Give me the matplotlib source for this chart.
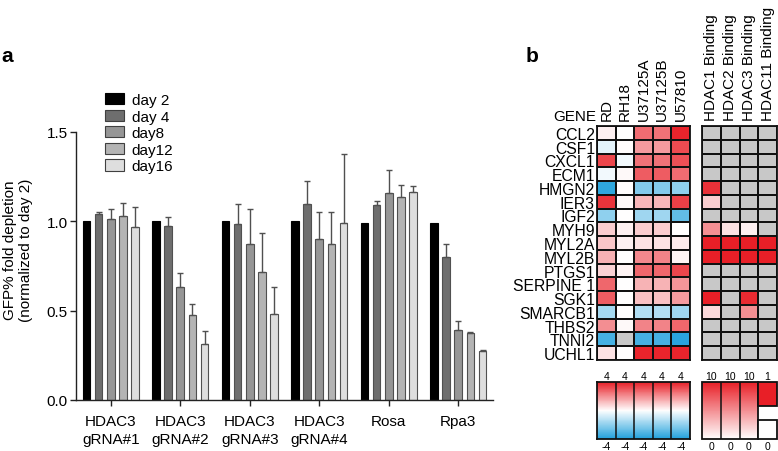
import numpy as np
import matplotlib
matplotlib.use("Agg")
import matplotlib.pyplot as plt
from matplotlib.colors import LinearSegmentedColormap
from matplotlib.patches import Patch, Rectangle

plt.rcParams['font.family'] = ['Liberation Sans', 'DejaVu Sans']

# ---------------- data: panel a ----------------
groups = ['HDAC3\ngRNA#1', 'HDAC3\ngRNA#2', 'HDAC3\ngRNA#3', 'HDAC3\ngRNA#4', 'Rosa', 'Rpa3']
series_names = ['day 2', 'day 4', 'day8', 'day12', 'day16']
day2 = [1.0, 1.0, 1.0, 1.0, 0.99, 0.99]
day4 = [1.04, 0.975, 0.985, 1.095, 1.09, 0.80]
day8 = [1.015, 0.63, 0.875, 0.90, 1.16, 0.39]
day12 = [1.03, 0.475, 0.715, 0.875, 1.135, 0.375]
day16 = [0.97, 0.315, 0.48, 0.99, 1.165, 0.275]
err2 = [0, 0, 0, 0, 0, 0]
err4 = [0.01, 0.05, 0.11, 0.13, 0.025, 0.075]
err8 = [0.055, 0.08, 0.195, 0.15, 0.125, 0.05]
err12 = [0.075, 0.06, 0.22, 0.18, 0.07, 0.008]
err16 = [0.11, 0.07, 0.15, 0.385, 0.035, 0.005]
bar_colors = ['#000000', '#6e6e6e', '#969696', '#b4b4b4', '#dedede']

# ---------------- data: panel b ----------------
genes = ['CCL2', 'CSF1', 'CXCL1', 'ECM1', 'HMGN2', 'IER3', 'IGF2', 'MYH9', 'MYL2A',
         'MYL2B', 'PTGS1', 'SERPINE 1', 'SGK1', 'SMARCB1', 'THBS2', 'TNNI2', 'UCHL1']
expr_cols = ['RD', 'RH18', 'U37125A', 'U37125B', 'U57810']
RD = [0.25, -0.5, 3.3, -0.25, -3.7, 3.6, -2.0, 0.9, 1.0, 1.4, 0.8, 2.7, 2.9, -1.6, 2.0, -3.3, 0.5]
RH18 = [0.0, 0.05, -0.25, 0.1, 0.05, 0.1, 0.0, 0.25, 0.25, 0.0, 0.2, 0.0, 0.0, 0.0, 0.1, np.nan, 0.0]
U37125A = [2.6, 1.8, 2.5, 2.9, -2.2, 1.3, -1.7, 0.9, 0.5, 2.1, 2.7, 1.35, 1.1, -1.4, 2.2, -3.3, 3.9]
U37125B = [2.5, 1.8, 2.5, 2.9, -2.2, 1.3, -1.7, 0.9, 0.5, 2.2, 2.7, 1.35, 1.1, -1.4, 2.2, -3.3, 3.9]
U57810 = [3.9, 3.2, 3.1, 2.6, -2.0, 3.4, -2.8, 0.0, 0.35, 0.2, 3.3, 1.9, 1.8, -1.7, 2.7, -3.8, 3.9]

bind_cols = ['HDAC1 Binding', 'HDAC2 Binding', 'HDAC3 Binding', 'HDAC11 Binding']
nan = np.nan
HDAC1 = [nan, nan, nan, nan, 9.2, 2.2, nan, 5.0, 10, 10, nan, nan, 10, 1.7, nan, nan, nan]
HDAC2 = [nan, nan, nan, nan, nan, nan, nan, 1.3, 10, 10, nan, nan, nan, nan, nan, nan, nan]
HDAC3 = [nan, nan, nan, nan, nan, nan, nan, 0.7, 10, 10, nan, nan, 9.5, 5.0, nan, nan, nan]
HDAC11 = [nan, nan, nan, nan, nan, nan, nan, nan, 1, 1, nan, nan, nan, nan, nan, nan, nan]
bind_max = [10, 10, 10, 1]
expr_top = ['4', '4', '4', '4', '4']
expr_bot = ['-4', '-4', '-4', '-4', '-4']
bind_top = ['10', '10', '10', '1']
bind_bot = ['0', '0', '0', '0']

W, H = 778, 452
fig = plt.figure(figsize=(W / 100, H / 100), dpi=100)

def fx(px):
    return px / W

def fy(py):
    return 1 - py / H

# ---------------- panel a ----------------
ax = fig.add_axes([fx(76), fy(401), fx(493 - 76), (401 - 133) / H])
x = np.arange(len(groups))
vals = [day2, day4, day8, day12, day16]
errs = [err2, err4, err8, err12, err16]
step = 0.175
bw = 0.11
for i, (v, e, c) in enumerate(zip(vals, errs, bar_colors)):
    off = (i - 2) * step
    ec = '#000000' if i == 0 else '#505050'
    ax.bar(x + off, v, width=bw, color=c, edgecolor=ec, linewidth=0.8, zorder=2)
    if i > 0:
        ax.errorbar(x + off, v, yerr=[np.zeros(len(e)), e], fmt='none', ecolor='#505050',
                    elinewidth=1.0, capsize=2.0, capthick=1.0, zorder=3)
ax.set_xlim(-0.5, 5.5)
ax.set_ylim(0, 1.5)
ax.set_yticks([0, 0.5, 1.0, 1.5])
ax.set_yticklabels(['0.0', '0.5', '1.0', '1.5'])
ax.set_xticks(x)
ax.set_xticklabels(groups, linespacing=1.38)
for s in ['top', 'right']:
    ax.spines[s].set_visible(False)
for s in ['left', 'bottom']:
    ax.spines[s].set_linewidth(1.0)
    ax.spines[s].set_color('#222222')
ax.tick_params(axis='both', labelsize=11, length=4, width=1.0, color='#222222')
ax.tick_params(axis='x', pad=6)
ax.tick_params(axis='y', pad=2)
fig.text(fx(18), fy(250), 'GFP% fold depletion\n(normalized to day 2)', rotation=90,
         ha='center', va='center', fontsize=11, linespacing=1.15)
handles = [Patch(facecolor=c, edgecolor=('#000000' if i == 0 else '#404040'), linewidth=0.8)
           for i, c in enumerate(bar_colors)]
fig.legend(handles, series_names, loc='upper left', bbox_to_anchor=(fx(105), fy(94)),
           frameon=False, fontsize=11, handlelength=1.25, handleheight=0.75,
           handletextpad=0.5, labelspacing=0.17, borderaxespad=0, borderpad=0)
fig.text(fx(1), fy(57), 'a', fontsize=15, fontweight='bold', ha='left', va='center')

# ---------------- panel b ----------------
cmap_div = LinearSegmentedColormap.from_list('bwr2', ['#1fa0dc', '#ffffff', '#e81f27'])
cmap_div.set_bad('#c8c8c8')
cmap_red = LinearSegmentedColormap.from_list('wr2', ['#ffffff', '#e81f27'])
cmap_red.set_bad('#c8c8c8')

top_px, bot_px = 127, 361
n = len(genes)

ax1 = fig.add_axes([fx(597), fy(bot_px), fx(690 - 597), (bot_px - top_px) / H])
M = np.array([RD, RH18, U37125A, U37125B, U57810], dtype=float).T
ax1.pcolormesh(np.ma.masked_invalid(M), cmap=cmap_div, vmin=-4, vmax=4,
               edgecolors='#111111', linewidth=1.1)
ax1.set_xlim(0, len(expr_cols))
ax1.set_ylim(n, 0)
ax1.set_yticks(np.arange(n) + 0.5)
ax1.set_yticklabels(genes, fontsize=11.3)
ax1.xaxis.tick_top()
ax1.set_xticks(np.arange(len(expr_cols)) + 0.5)
ax1.set_xticklabels(expr_cols, rotation=90, fontsize=11)
ax1.tick_params(length=0, pad=1.5)
ax1.tick_params(axis='x', pad=4)
for s in ax1.spines.values():
    s.set_linewidth(1.3)
    s.set_color('#111111')

ax2 = fig.add_axes([fx(702), fy(bot_px), fx(777 - 702), (bot_px - top_px) / H])
B = np.array([np.array(HDAC1) / bind_max[0], np.array(HDAC2) / bind_max[1],
              np.array(HDAC3) / bind_max[2], np.array(HDAC11) / bind_max[3]], dtype=float).T
ax2.pcolormesh(np.ma.masked_invalid(B), cmap=cmap_red, vmin=0, vmax=1,
               edgecolors='#111111', linewidth=1.1)
ax2.set_xlim(0, len(bind_cols))
ax2.set_ylim(n, 0)
ax2.set_yticks([])
ax2.xaxis.tick_top()
ax2.set_xticks(np.arange(len(bind_cols)) + 0.5)
ax2.set_xticklabels(bind_cols, rotation=90, fontsize=11)
ax2.tick_params(length=0, pad=4)
for s in ax2.spines.values():
    s.set_linewidth(1.3)
    s.set_color('#111111')

fig.text(fx(596), fy(117), 'GENE', ha='right', va='center', fontsize=11)
fig.text(fx(526), fy(57), 'b', fontsize=15, fontweight='bold', ha='left', va='center')

# colour keys
cb_top, cb_bot = 383, 440
axc1 = fig.add_axes([fx(597), fy(cb_bot), fx(690 - 597), (cb_bot - cb_top) / H])
yy = np.linspace(-4, 4, 121)
xx = np.arange(len(expr_cols) + 1)
G = np.tile(((yy[:-1] + yy[1:]) / 2)[:, None], (1, len(expr_cols)))
axc1.pcolormesh(xx, yy, G, cmap=cmap_div, vmin=-4, vmax=4, shading='flat')
for k in range(1, len(expr_cols)):
    axc1.axvline(k, color='#111111', lw=1.1)
axc1.set_xlim(0, len(expr_cols))
axc1.set_ylim(-4, 4)
axc1.set_xticks([])
axc1.set_yticks([])
for s in axc1.spines.values():
    s.set_linewidth(1.3)
    s.set_color('#111111')
for k in range(len(expr_cols)):
    fig.text(fx(597 + (k + 0.5) * 93 / 5), fy(377), expr_top[k], ha='center', va='center', fontsize=7.5)
    fig.text(fx(597 + (k + 0.5) * 93 / 5), fy(447), expr_bot[k], ha='center', va='center', fontsize=7.5)

axc2 = fig.add_axes([fx(702), fy(cb_bot), fx(777 - 702), (cb_bot - cb_top) / H])
y2 = np.linspace(0, 1, 121)
G2 = np.tile(((y2[:-1] + y2[1:]) / 2)[:, None], (1, 3))
axc2.pcolormesh(np.arange(4), y2, G2, cmap=cmap_red, vmin=0, vmax=1, shading='flat')
for sp in ['top', 'right', 'bottom', 'left']:
    axc2.spines[sp].set_visible(False)
axc2.add_patch(Rectangle((0, 0), 3, 1, fill=False, ec='#111111', lw=1.3, clip_on=False))
for k in (1, 2):
    axc2.plot([k, k], [0, 1], color='#111111', lw=1.1)
axc2.add_patch(Rectangle((3, 0.58), 1, 0.42, fc=cmap_red(1.0), ec='#111111', lw=1.3, clip_on=False))
axc2.add_patch(Rectangle((3, 0.0), 1, 0.33, fc='#ffffff', ec='#111111', lw=1.3, clip_on=False))
axc2.set_xlim(0, 4)
axc2.set_ylim(0, 1)
axc2.set_xticks([])
axc2.set_yticks([])
for k in range(len(bind_cols)):
    fig.text(fx(702 + (k + 0.5) * 75 / 4), fy(377), bind_top[k], ha='center', va='center', fontsize=7.5)
    fig.text(fx(702 + (k + 0.5) * 75 / 4), fy(447), bind_bot[k], ha='center', va='center', fontsize=7.5)

fig.savefig('out.png', dpi=100)
